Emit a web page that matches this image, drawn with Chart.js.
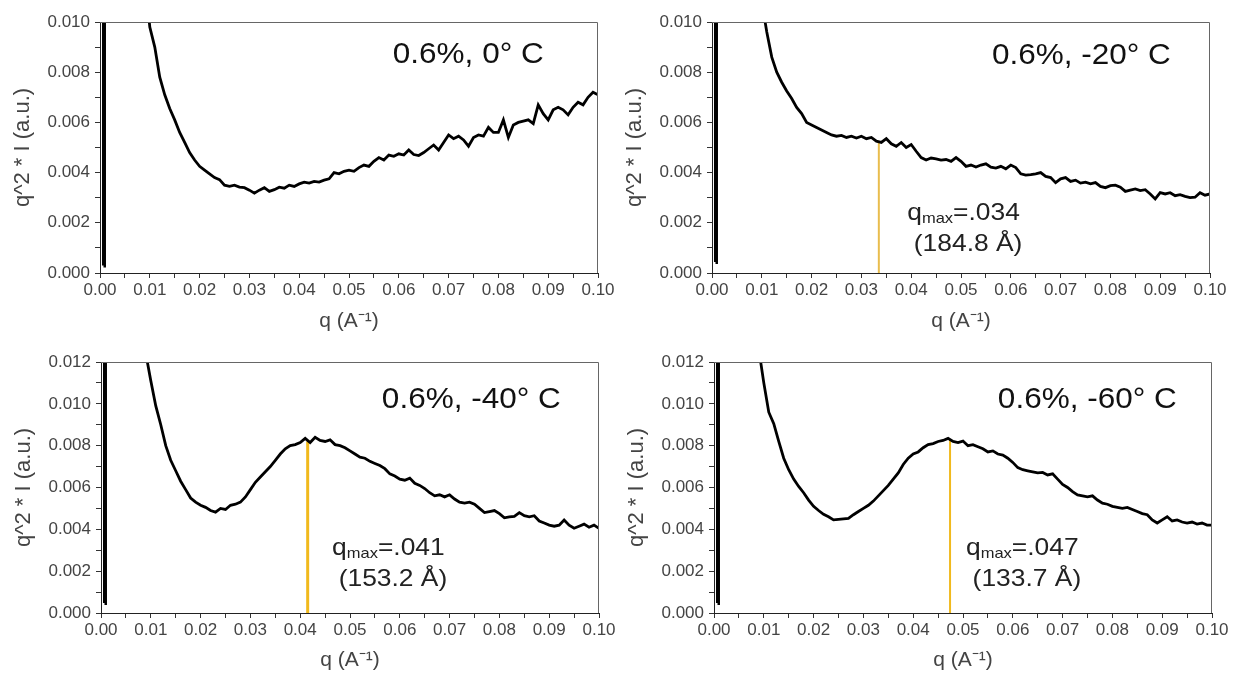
<!DOCTYPE html>
<html>
<head>
  <title>q^2 * I vs q</title>
  <script src="https://cdn.jsdelivr.net/npm/chart.js"></script>
  <style>
    body {
      margin: 0;
      background: #fff;
      overflow: hidden;
      width: 1233px;
      height: 677px;
      position: relative;
    }
    .panel {
      position: absolute;
    }
  </style>
</head>
<body>
  <div class="panel" style="left:0px;top:0px"><canvas id="p0" width="620" height="338"></canvas></div>
  <div class="panel" style="left:612px;top:0px"><canvas id="p20" width="620" height="338"></canvas></div>
  <div class="panel" style="left:1px;top:340px"><canvas id="p40" width="620" height="337"></canvas></div>
  <div class="panel" style="left:614px;top:340px"><canvas id="p60" width="619" height="337"></canvas></div>

  <script>
    // q grid (A^-1), read every 0.001 from the picture
    const qGrid = [0.009, 0.010, 0.011, 0.012, 0.013, 0.014, 0.015, 0.016, 0.017, 0.018, 0.019,
      0.020, 0.021, 0.022, 0.023, 0.024, 0.025, 0.026, 0.027, 0.028, 0.029,
      0.030, 0.031, 0.032, 0.033, 0.034, 0.035, 0.036, 0.037, 0.038, 0.039,
      0.040, 0.041, 0.042, 0.043, 0.044, 0.045, 0.046, 0.047, 0.048, 0.049,
      0.050, 0.051, 0.052, 0.053, 0.054, 0.055, 0.056, 0.057, 0.058, 0.059,
      0.060, 0.061, 0.062, 0.063, 0.064, 0.065, 0.066, 0.067, 0.068, 0.069,
      0.070, 0.071, 0.072, 0.073, 0.074, 0.075, 0.076, 0.077, 0.078, 0.079,
      0.080, 0.081, 0.082, 0.083, 0.084, 0.085, 0.086, 0.087, 0.088, 0.089,
      0.090, 0.091, 0.092, 0.093, 0.094, 0.095, 0.096, 0.097, 0.098, 0.099, 0.100];

    // beam stop region (goes far off scale)
    const beamQ = [0.0007, 0.0008, 0.003, 0.006];
    const beam0 = [0.0003, 0.3, 0.08, 0.03];
    const beam20 = [0.00044, 0.3, 0.08, 0.03];
    const beam40 = [0.00048, 0.3, 0.08, 0.03];
    const beam60 = [0.00048, 0.3, 0.08, 0.03];

    const i0 = [0.0118, 0.0098, 0.0090, 0.0078, 0.0071, 0.00655, 0.0061, 0.0056, 0.0052, 0.0048, 0.0045,
      0.00425, 0.0041, 0.00395, 0.0038, 0.00372, 0.0035, 0.00345, 0.0035, 0.00342, 0.0034,
      0.0033, 0.00318, 0.0033, 0.0034, 0.00325, 0.00332, 0.00342, 0.00338, 0.0035, 0.00345,
      0.00355, 0.00362, 0.00358, 0.00365, 0.00362, 0.0037, 0.00375, 0.0040, 0.00395, 0.00405,
      0.0041, 0.00405, 0.0042, 0.0043, 0.00425, 0.00445, 0.0046, 0.0045, 0.0047, 0.00465,
      0.00475, 0.0047, 0.0049, 0.00472, 0.00468, 0.0048, 0.00495, 0.0051, 0.0049, 0.0052,
      0.0055, 0.00535, 0.00545, 0.0053, 0.00505, 0.0054, 0.0055, 0.00545, 0.0058, 0.0056,
      0.0056, 0.0061, 0.0054, 0.0059, 0.0060, 0.00605, 0.0061, 0.00595, 0.0067, 0.00635,
      0.0061, 0.0065, 0.0066, 0.0065, 0.0063, 0.0066, 0.0068, 0.0067, 0.0070, 0.0072, 0.0071];

    const i20 = [0.0125, 0.0108, 0.0096, 0.0086, 0.0080, 0.0076, 0.00725, 0.00695, 0.0066, 0.00635, 0.0060,
      0.0059, 0.0058, 0.0057, 0.0056, 0.0055, 0.00545, 0.00548, 0.0054, 0.00545, 0.00538,
      0.00545, 0.00535, 0.0054, 0.00525, 0.0052, 0.00535, 0.00515, 0.00505, 0.0052, 0.0050,
      0.00512, 0.00485, 0.0046, 0.0045, 0.00458, 0.00455, 0.0045, 0.00452, 0.00445, 0.0046,
      0.00445, 0.00425, 0.0043, 0.00422, 0.0043, 0.00435, 0.00422, 0.00418, 0.00425, 0.00415,
      0.0043, 0.0042, 0.00395, 0.0039, 0.00392, 0.00395, 0.0040, 0.00385, 0.0038, 0.0036,
      0.00375, 0.0038, 0.00365, 0.0037, 0.00358, 0.00362, 0.00355, 0.0036, 0.00345, 0.0034,
      0.00348, 0.0035, 0.00342, 0.00325, 0.0033, 0.00335, 0.00328, 0.00332, 0.00315, 0.00295,
      0.0032, 0.00315, 0.0032, 0.00308, 0.00312, 0.00305, 0.0030, 0.00302, 0.0032, 0.0031, 0.00315];

    const i40 = [0.0124, 0.0111, 0.0099, 0.0090, 0.0080, 0.0073, 0.0068, 0.0063, 0.0059, 0.0055, 0.0053,
      0.00515, 0.00505, 0.0049, 0.00482, 0.0050, 0.00495, 0.00515, 0.0052, 0.0053, 0.00555,
      0.0059, 0.00625, 0.0065, 0.00675, 0.0070, 0.0073, 0.0076, 0.00785, 0.0080, 0.00805,
      0.00815, 0.00835, 0.00815, 0.0084, 0.00825, 0.0082, 0.00828, 0.00805, 0.0080, 0.0079,
      0.00775, 0.0076, 0.00745, 0.0074, 0.00725, 0.00715, 0.00705, 0.0069, 0.00665, 0.00655,
      0.0064, 0.00635, 0.00645, 0.0062, 0.0061, 0.00595, 0.00575, 0.0056, 0.00565, 0.00555,
      0.00565, 0.00545, 0.0053, 0.00525, 0.0053, 0.0052, 0.0050, 0.0048, 0.00485, 0.0049,
      0.00475, 0.00455, 0.0046, 0.00462, 0.0048, 0.00465, 0.0046, 0.00465, 0.0044, 0.0043,
      0.0042, 0.00415, 0.0042, 0.00445, 0.0042, 0.00405, 0.00415, 0.00425, 0.0041, 0.0042, 0.00405];

    const i60 = [0.0126, 0.0110, 0.0096, 0.00905, 0.0082, 0.0074, 0.00685, 0.0064, 0.00605, 0.00575, 0.0054,
      0.0051, 0.0049, 0.00472, 0.0046, 0.00445, 0.00448, 0.0045, 0.00452, 0.0047, 0.00485,
      0.0050, 0.00515, 0.00535, 0.0056, 0.00585, 0.0061, 0.0064, 0.0067, 0.0071, 0.0074,
      0.0076, 0.0077, 0.0079, 0.00805, 0.0081, 0.0082, 0.00825, 0.00835, 0.0082, 0.00815,
      0.00822, 0.0080, 0.00805, 0.00795, 0.00785, 0.0077, 0.00775, 0.0076, 0.00755, 0.0074,
      0.0072, 0.00695, 0.00685, 0.0068, 0.00675, 0.0067, 0.00672, 0.0066, 0.00665, 0.0064,
      0.00615, 0.0060, 0.0058, 0.00565, 0.0056, 0.00555, 0.0056, 0.0054, 0.00525, 0.0052,
      0.0051, 0.00505, 0.0050, 0.00505, 0.00495, 0.00485, 0.00475, 0.0047, 0.00445, 0.0043,
      0.00445, 0.0046, 0.0044, 0.00445, 0.00435, 0.0043, 0.00435, 0.00425, 0.0043, 0.0042, 0.0042];

    // q_max marker lines: position and height where they meet the curve
    const qmaxPos = [null, 0.0335, 0.0415, 0.0474];
    const qmaxTop = [null, 0.0052, 0.0082, 0.0083];
    const qmaxText = [null, '=.034', '=.041', '=.047'];
    const dText = [null, '(184.8 Å)', '(153.2 Å)', '(133.7 Å)'];

    const panelLabels = ['0.6%, 0° C', '0.6%, -20° C', '0.6%, -40° C', '0.6%, -60° C'];
    const yMax = [0.010, 0.010, 0.012, 0.012];

    Chart.defaults.font.family = "'Liberation Sans', Arial, sans-serif";
    Chart.defaults.color = '#444';

    // text placement inside each panel (data coordinates)
    const labelAt = [[0.0588, 0.00837], [0.0562, 0.00833], [0.0564, 0.0098], [0.0570, 0.0098]];
    const qmaxAt = [null, [0.0392, 0.00211], [0.0464, 0.00277], [0.0506, 0.00277]];

    const panelText = {
      id: 'panelText',
      afterDraw(chart) {
        const ctx = chart.ctx;
        const a = chart.chartArea;
        const xs = chart.scales.x, ys = chart.scales.y;
        const k = chart.options.plugins.panelText.k;

        // top and right frame
        ctx.save();
        ctx.strokeStyle = '#666';
        ctx.lineWidth = 1;
        ctx.beginPath();
        ctx.moveTo(a.left, a.top + 0.5);
        ctx.lineTo(a.right - 0.5, a.top + 0.5);
        ctx.lineTo(a.right - 0.5, a.bottom);
        ctx.stroke();

        // panel title
        ctx.fillStyle = '#111';
        ctx.textBaseline = 'alphabetic';
        ctx.textAlign = 'left';
        ctx.translate(xs.getPixelForValue(labelAt[k][0]), ys.getPixelForValue(labelAt[k][1]));
        ctx.scale(1.05, 1);
        ctx.font = "30px 'Liberation Sans', Arial, sans-serif";
        ctx.fillText(panelLabels[k], 0, 0);
        ctx.restore();

        if (qmaxAt[k]) {
          ctx.save();
          ctx.fillStyle = '#222';
          ctx.translate(xs.getPixelForValue(qmaxAt[k][0]), ys.getPixelForValue(qmaxAt[k][1]));
          ctx.scale(1.1, 1);
          ctx.font = "24px 'Liberation Sans', Arial, sans-serif";
          ctx.fillText('q', 0, 0);
          let w = ctx.measureText('q').width;
          ctx.font = "15px 'Liberation Sans', Arial, sans-serif";
          ctx.fillText('max', w, 3);
          w += ctx.measureText('max').width;
          ctx.font = "24px 'Liberation Sans', Arial, sans-serif";
          ctx.fillText(qmaxText[k], w, 0);
          ctx.fillText(dText[k], 6, 31);
          ctx.restore();
        }
      }
    };

    function curve(beamVals, vals) {
      const pts = beamQ.map((q, i) => ({ x: q, y: beamVals[i] }));
      return pts.concat(qGrid.map((q, i) => ({ x: q, y: vals[i] })));
    }

    function makePanel(id, k, beamVals, vals) {
      const datasets = [{
        data: curve(beamVals, vals),
        borderColor: '#000',
        borderWidth: 2.8,
        segment: {
          borderWidth: (c) => (c.p0DataIndex === 0 ? 4 : undefined)
        },
        pointRadius: 0,
        tension: 0,
        clip: 0,
        order: 0
      }];
      if (qmaxPos[k] !== null) {
        datasets.push({
          data: [{ x: qmaxPos[k], y: 0 }, { x: qmaxPos[k], y: qmaxTop[k] }],
          borderColor: k === 1 ? '#e9bd4e' : '#f1b91c',
          borderWidth: k === 2 ? 3 : 2,
          pointRadius: 0,
          clip: 0,
          order: 1
        });
      }

      new Chart(document.getElementById(id), {
        type: 'line',
        data: { datasets: datasets },
        plugins: [panelText],
        options: {
          responsive: false,
          animation: false,
          layout: { padding: { top: 22, right: id === 'p60' ? 21 : 22, left: 0, bottom: 0 } },
          plugins: {
            legend: { display: false },
            tooltip: { enabled: false },
            panelText: { k: k }
          },
          scales: {
            x: {
              type: 'linear',
              min: 0,
              max: 0.1,
              afterFit: (s) => { s.height = id === 'p0' || id === 'p20' ? 65 : 64; },
              border: { color: '#222', width: 1 },
              grid: { drawOnChartArea: false, tickLength: 5, color: '#333' },
              ticks: {
                stepSize: 0.005,
                autoSkip: false,
                maxRotation: 0,
                padding: 2,
                font: { size: 17 },
                color: '#444',
                callback: (v, i) => (i % 2 === 0 ? v.toFixed(2) : '')
              },
              title: {
                display: true,
                text: 'q (A⁻¹)',
                font: { size: 21 },
                color: '#444',
                padding: { top: 4, bottom: 4 }
              }
            },
            y: {
              min: 0,
              max: yMax[k],
              afterFit: (s) => { s.width = 100; },
              border: { color: '#222', width: 1 },
              grid: { drawOnChartArea: false, tickLength: 5, color: '#333' },
              ticks: {
                stepSize: 0.001,
                autoSkip: false,
                padding: 5,
                font: { size: 17 },
                color: '#444',
                callback: (v, i) => (i % 2 === 0 ? v.toFixed(3) : '')
              },
              title: {
                display: true,
                text: 'q^2 * I (a.u.)',
                font: { size: 22 },
                color: '#444',
                padding: { top: 10, bottom: 4 }
              }
            }
          }
        }
      });
    }

    makePanel('p0', 0, beam0, i0);
    makePanel('p20', 1, beam20, i20);
    makePanel('p40', 2, beam40, i40);
    makePanel('p60', 3, beam60, i60);
  </script>
</body>
</html>
